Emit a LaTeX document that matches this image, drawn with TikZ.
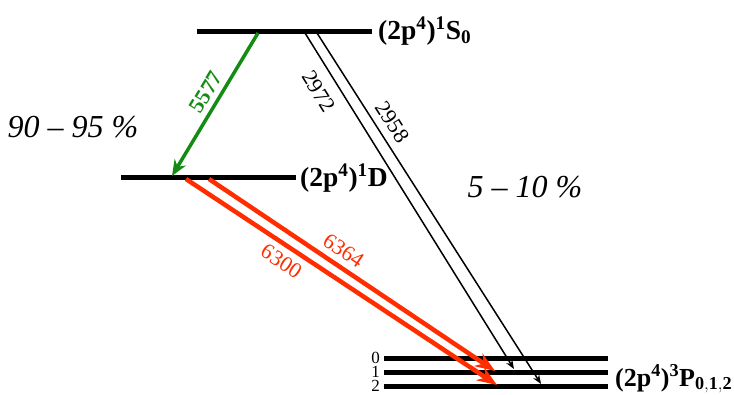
\documentclass[tikz,border=0pt]{standalone}
\usepackage{fontspec}
\setmainfont{Liberation Serif}
\usetikzlibrary{arrows.meta, positioning, calc}

\definecolor{oxgreen}{RGB}{20,140,20}
\definecolor{oxred}{RGB}{255,45,0}

\begin{document}
\begin{tikzpicture}[
    x=1pt, y=-1pt,
    level/.style={line width=5pt},
    lvllab/.style={font=\fontsize{27.5}{27.5}\selectfont\bfseries, inner sep=0pt},
    pct/.style={font=\fontsize{32}{32}\selectfont\itshape},
    wavelab/.style={font=\fontsize{22}{22}\selectfont, sloped, inner sep=1pt},
    jlab/.style={font=\fontsize{17}{17}\selectfont, inner sep=0pt},
    greenarrow/.style={-{Stealth[length=16pt, width=13pt]}, oxgreen, line width=3.5pt},
    redarrow/.style={-{Stealth[length=20pt, width=15pt]}, oxred, line width=4.5pt},
    blackarrow/.style={-{Stealth[length=9pt, width=7pt]}, line width=1.5pt}
]
    \useasboundingbox (0,0) rectangle (734,394);

    % Levels
    \coordinate (S0l) at (197,31);  \coordinate (S0r) at (372,31);
    \coordinate (Dl) at (121,177);  \coordinate (Dr) at (296,177);
    \coordinate (P0l) at (384,358); \coordinate (P0r) at (608,358);
    \coordinate (P1l) at (384,372); \coordinate (P1r) at (608,372);
    \coordinate (P2l) at (384,386); \coordinate (P2r) at (608,386);
    \draw[level] (S0l) -- (S0r);
    \draw[level] (Dl) -- (Dr);
    \draw[level] (P0l) -- (P0r);
    \draw[level] (P1l) -- (P1r);
    \draw[level] (P2l) -- (P2r);

    % Level labels
    \node[lvllab, right=6pt of S0r, anchor=base west, yshift=-8pt] (S0lab) {(2p$^{\mathbf{4}}$)$^{\mathbf{1}}$S$_{\mathbf{0}}$};
    \node[lvllab, right=4pt of Dr, anchor=base west, yshift=-9pt] (Dlab) {(2p$^{\mathbf{4}}$)$^{\mathbf{1}}$D};
    \node[lvllab, font=\fontsize{26}{26}\selectfont\bfseries, right=7pt of P1r, anchor=base west, yshift=-14pt] (Plab) {(2p$^{\mathbf{4}}$)$^{\mathbf{3}}$P$_{\mathbf{0{,}1{,}2}}$};
    \node[jlab, left=4pt of P0l] (j0) {0};
    \node[jlab, left=4pt of P1l] (j1) {1};
    \node[jlab, left=4pt of P2l] (j2) {2};

    % Branching ratios
    \node[pct] (pctD) at (73,127) {90 -- 95 \%};
    \node[pct] (pctP) at (525,187) {5 -- 10 \%};

    % Transitions
    \coordinate (g1) at (258,33);  \coordinate (g2) at (172,176);
    \coordinate (b1) at (305,33);  \coordinate (b2) at (514,369);
    \coordinate (c1) at (317,33);  \coordinate (c2) at (541,384);
    \coordinate (r1) at (186,179); \coordinate (r2) at (497,385);
    \coordinate (s1) at (209,179); \coordinate (s2) at (495,371);

    \draw[greenarrow] (g1) -- node[wavelab, pos=0.465, above=4pt, font=\fontsize{22}{22}\selectfont\bfseries] (l5577) {5577} (g2);
    \draw[blackarrow] (b1) -- node[wavelab, pos=0.144, below=10pt] (l2972) {2972} (b2);
    \draw[blackarrow] (c1) -- node[wavelab, pos=0.278, above=7pt] (l2958) {2958} (c2);
    \draw[redarrow] (r1) -- node[wavelab, pos=0.335, below=5pt, text=oxred] (l6300) {6300} (r2);
    \draw[redarrow] (s1) -- node[wavelab, pos=0.44, above=5pt, text=oxred] (l6364) {6364} (s2);
\end{tikzpicture}
\end{document}
